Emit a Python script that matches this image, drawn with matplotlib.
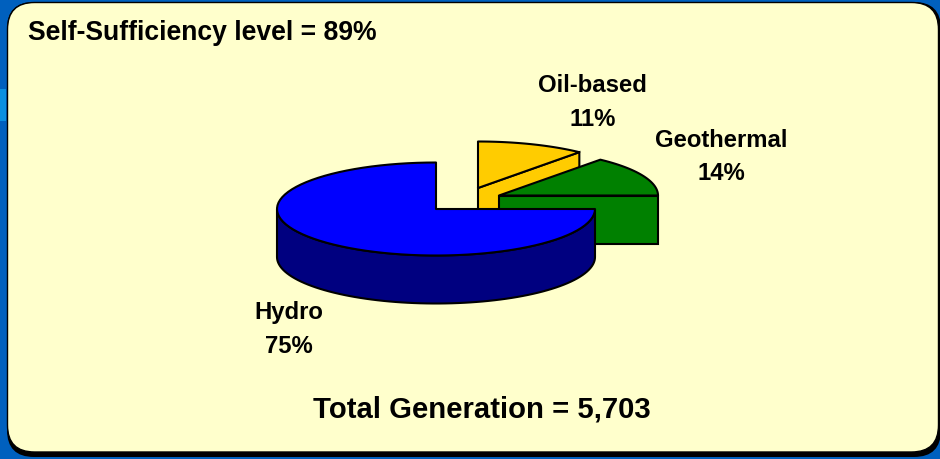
import numpy as np
import matplotlib.pyplot as plt
from matplotlib.patches import FancyBboxPatch, Polygon, Rectangle

# Valeurs
labels = ["Hydro", "Oil-based", "Geothermal"]
shares = [75, 11, 14]
title_text = "Self-Sufficiency level = 89%"
total_text = "Total Generation = 5,703"

top_colors = ["#0000FF", "#FFCC00", "#008000"]
side_colors = ["#000080", "#FFCC00", "#008000"]
# centre de chaque part (pixels), les parts sont detachees
centers = [(436, 209), (478, 188), (499, 195.5)]
label_pos = [(288.5, 329.5), (592.5, 102.5), (721, 157)]
RX, RY, DEPTH = 159, 46.5, 48

plt.rcParams['font.family'] = ['Liberation Sans', 'DejaVu Sans']
fig = plt.figure(figsize=(9.4, 4.59), dpi=100)
ax = fig.add_axes([0, 0, 1, 1])
ax.set_xlim(0, 940)
ax.set_ylim(459, 0)
ax.axis('off')

# fond bleu et panneau clair
ax.add_patch(Rectangle((0, 0), 940, 459, fc="#0060BE", ec="none", zorder=0))
ax.add_patch(Rectangle((0, 89), 6, 32, fc="#0A90E0", ec="none", zorder=0.5))
ax.add_patch(FancyBboxPatch((7, 2), 934, 455, boxstyle="round,pad=0,rounding_size=27",
                            fc="#000000", ec="none", zorder=1))
ax.add_patch(FancyBboxPatch((7.5, 2.5), 931, 449.5, boxstyle="round,pad=0,rounding_size=27",
                            fc="#FFFFCC", ec="#000000", lw=1, zorder=2))


def rim(cx, cy, a0, a1):
    t = np.radians(np.linspace(a0, a1, 80))
    return cx + RX * np.cos(t), cy - RY * np.sin(t)


# angles depuis les parts : Hydro de 90 a 360, puis Oil, puis Geothermal
spans = [s * 3.6 for s in shares]
a_hydro = (90, 90 + spans[0])
a_oil = (90 - spans[1], 90)
a_geo = (90 - spans[1] - spans[2], 90 - spans[1])
angles = [a_hydro, a_oil, a_geo]

for i in [1, 2, 0]:
    cx, cy = centers[i]
    a0, a1 = angles[i]
    z = 3 + [2, 0, 1][i]
    x, y = rim(cx, cy, a0, a1)
    if i == 0:
        # paroi avant visible : demi-ellipse basse
        xs, ys = rim(cx, cy, 180, 360)
        ax.fill(np.r_[xs, xs[::-1]], np.r_[ys, ys[::-1] + DEPTH], fc=side_colors[i],
                ec="black", lw=1.5, zorder=z)
    else:
        # face coupee
        ax.add_patch(Polygon([(cx, cy), (x[0], y[0]), (x[0], y[0] + DEPTH), (cx, cy + DEPTH)],
                             fc=side_colors[i], ec="black", lw=1.5, zorder=z))
    ax.add_patch(Polygon(np.c_[np.r_[cx, x], np.r_[cy, y]], fc=top_colors[i], ec="black",
                         lw=1.5, joinstyle='round', zorder=z + 0.1))

for lab, s, (lx, ly) in zip(labels, shares, label_pos):
    ax.text(lx, ly, f"{lab}\n{s}%", ha='center', va='center', fontsize=17.2,
            fontweight='bold', color="black", linespacing=1.56, zorder=10)

ax.text(28, 33, title_text, ha='left', va='center', fontsize=19.1, fontweight='bold', zorder=10)
ax.text(481.5, 409, total_text, ha='center', va='center', fontsize=21.1, fontweight='bold', zorder=10)

fig.savefig("out.png", dpi=100)
